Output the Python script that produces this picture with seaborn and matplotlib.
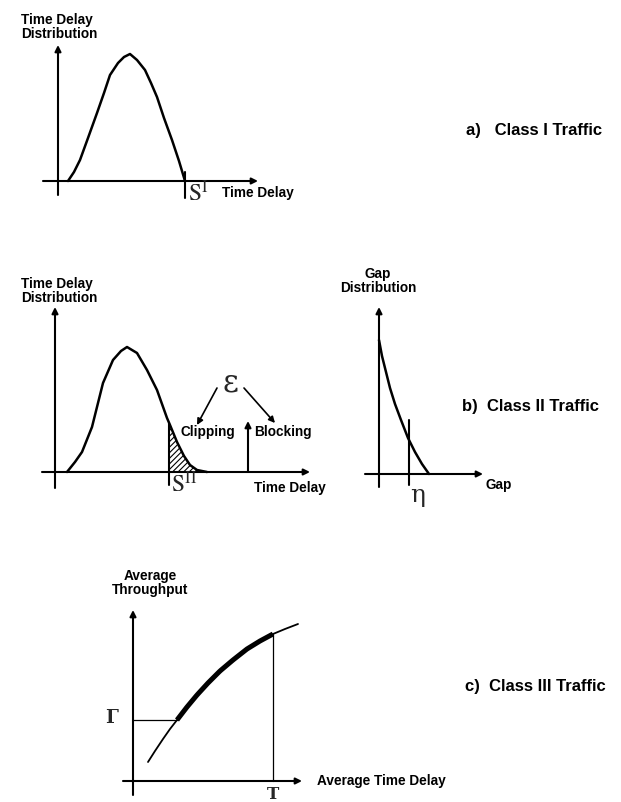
import numpy as np
import pandas as pd
import matplotlib
matplotlib.use("Agg")
import matplotlib.pyplot as plt
import seaborn as sns

# curve values (arbitrary units)
a_delay = [0.5, 0.8, 1.1, 1.5, 1.95, 2.3, 2.6, 3.0, 3.3, 3.6, 3.95, 4.35, 4.65, 4.95, 5.3, 5.7, 6.05, 6.35]
a_dist = [0.0, 0.45, 1.05, 2.15, 3.4, 4.4, 5.3, 5.9, 6.2, 6.35, 6.05, 5.55, 4.9, 4.2, 3.15, 2.05, 1.0, 0.0]
a_limit = 6.35

b_delay = [0.6, 1.0, 1.35, 1.85, 2.4, 2.9, 3.3, 3.6, 4.1, 4.6, 5.1, 5.6, 5.75, 6.1, 6.45, 6.75, 7.1, 7.6]
b_dist = [0.0, 0.5, 1.0, 2.25, 4.45, 5.6, 6.05, 6.25, 5.95, 5.1, 4.1, 2.7, 2.35, 1.5, 0.8, 0.35, 0.1, 0.0]
b_limit = 5.7
b_block = 9.65

gap = [0.0, 0.15, 0.35, 0.55, 0.8, 1.1, 1.45, 1.8, 2.15, 2.5]
gap_dist = [6.7, 5.9, 5.1, 4.3, 3.5, 2.7, 1.8, 1.1, 0.5, 0.0]
eta = 1.5

c_delay = [0.75, 1.1, 1.5, 1.85, 2.2, 2.7, 3.2, 3.75, 4.35, 5.0, 5.7, 6.35, 7.0, 7.6, 8.25]
c_thru = [0.95, 1.5, 2.1, 2.6, 3.05, 3.7, 4.3, 4.9, 5.5, 6.05, 6.6, 7.0, 7.35, 7.6, 7.85]
gamma = 3.05
tau = 7.0

W, H = 621, 802
sns.set_theme(style="white")
plt.rcParams["font.family"] = ["Liberation Sans", "DejaVu Sans"]
plt.rcParams["mathtext.fontset"] = "stix"
plt.rcParams["hatch.linewidth"] = 0.8

fig = plt.figure(figsize=(W / 100, H / 100), dpi=100)
fig.patch.set_facecolor("white")


def place(ox, oy, xlim, ylim, scale=20):
    x0 = ox + xlim[0] * scale
    x1 = ox + xlim[1] * scale
    ytop = oy - ylim[1] * scale
    ybot = oy - ylim[0] * scale
    ax = fig.add_axes([x0 / W, 1 - ybot / H, (x1 - x0) / W, (ybot - ytop) / H])
    ax.set_xlim(xlim)
    ax.set_ylim(ylim)
    ax.axis("off")
    return ax


def arrow(ax, start, end, lw=1.5):
    ax.annotate("", xy=end, xytext=start, annotation_clip=False,
                arrowprops=dict(arrowstyle="-|>", color="black", lw=lw,
                                mutation_scale=9, shrinkA=0, shrinkB=0))


lab = dict(fontsize=9.8, fontweight="bold", color="black")
cls = dict(fontsize=12, fontweight="bold", color="black", ha="left", va="center")
serif = ["DejaVu Serif"]

# ---- a) Class I
ax = place(58, 181, (-2, 13), (-1.2, 9))
arrow(ax, (-0.75, 0), (10, 0))
arrow(ax, (0, -0.7), (0, 6.8))
sns.lineplot(x=a_delay, y=a_dist, ax=ax, color="black", lw=1.8, sort=False)
ax.plot([a_limit, a_limit], [-0.85, 0.45], color="black", lw=1.5)
ax.text(a_limit + 0.15, -0.6, r"$\mathrm{S}^{\mathrm{I}}$", ha="left", va="center", fontsize=17)
ax.text(8.2, -0.6, "Time Delay", ha="left", va="center", **lab)
ax.text(-1.85, 7.7, "Time Delay\nDistribution", ha="left", va="center", linespacing=1.0, **lab)
fig.text(466 / W, 1 - 130 / H, "a)   Class I Traffic", **cls)

# ---- b) Class II, time delay
ax = place(55, 472, (-2, 13.5), (-1.2, 10))
arrow(ax, (-0.65, 0), (12.75, 0))
arrow(ax, (0, -0.8), (0, 8.25))
sns.lineplot(x=b_delay, y=b_dist, ax=ax, color="black", lw=1.8, sort=False)
xs = np.linspace(b_limit, b_delay[-1], 60)
ax.fill_between(xs, np.interp(xs, b_delay, b_dist), 0, facecolor="white",
                edgecolor="black", hatch="//////", lw=0)
ax.plot([b_limit, b_limit], [-0.65, np.interp(b_limit, b_delay, b_dist)], color="black", lw=1.5)
ax.text(b_limit + 0.1, -0.6, r"$\mathrm{S}^{\mathrm{II}}$", ha="left", va="center", fontsize=17)
ax.text(11.75, -0.8, "Time Delay", ha="center", va="center", **lab)
ax.text(-1.7, 9.07, "Time Delay\nDistribution", ha="left", va="center", linespacing=1.0, **lab)
arrow(ax, (b_block, 0), (b_block, 2.55))
ax.text(8.75, 4.45, "ε", fontsize=22, ha="center", va="center", family=serif)
arrow(ax, (8.1, 4.2), (7.1, 2.35), lw=1.2)
arrow(ax, (9.45, 4.2), (11.0, 2.45), lw=1.2)
ax.text(7.65, 2.0, "Clipping", ha="center", va="center", **lab)
ax.text(11.4, 2.0, "Blocking", ha="center", va="center", **lab)

# ---- b) Class II, gap
ax = place(379, 474, (-1, 7), (-1.5, 10.5))
arrow(ax, (-0.7, 0), (5.2, 0))
arrow(ax, (0, -0.65), (0, 8.35))
sns.lineplot(x=gap, y=gap_dist, ax=ax, color="black", lw=1.8, sort=False)
ax.plot([eta, eta], [-0.55, 2.7], color="black", lw=1.5)
ax.text(eta + 0.45, -1.05, "η", fontsize=18, ha="center", va="center", family=serif)
ax.text(5.35, -0.55, "Gap", ha="left", va="center", **lab)
ax.text(-0.05, 9.65, "Gap\nDistribution", ha="center", va="center", linespacing=1.0, **lab)
fig.text(462 / W, 1 - 407 / H, "b)  Class II Traffic", **cls)

# ---- c) Class III
ax = place(133, 781, (-2, 9), (-1.3, 11))
arrow(ax, (-0.5, 0), (8.45, 0))
arrow(ax, (0, -0.7), (0, 8.55))
curve = pd.DataFrame({"delay": c_delay, "thru": c_thru})
sns.lineplot(data=curve, x="delay", y="thru", ax=ax, color="black", lw=1.3)
gx = np.interp(gamma, c_thru, c_delay)
xs = np.linspace(gx, tau, 60)
ax.plot(xs, np.interp(xs, c_delay, c_thru), color="black", lw=3.6, solid_capstyle="butt")
ax.plot([0, gx], [gamma, gamma], color="black", lw=0.9)
ax.plot([tau, tau], [0, np.interp(tau, c_delay, c_thru)], color="black", lw=0.9)
ax.text(-1.05, gamma + 0.1, "Γ", fontsize=13, ha="center", va="center", family=serif,
        fontweight="bold")
ax.text(tau, -0.7, "T", fontsize=12, ha="center", va="center", family=serif, fontweight="bold")
ax.text(9.2, 0, "Average Time Delay", ha="left", va="center", **lab)
ax.text(0.85, 9.9, "Average\nThroughput", ha="center", va="center", linespacing=1.0, **lab)
fig.text(465 / W, 1 - 686 / H, "c)  Class III Traffic", **cls)

fig.savefig("out.png", dpi=100, facecolor="white")
